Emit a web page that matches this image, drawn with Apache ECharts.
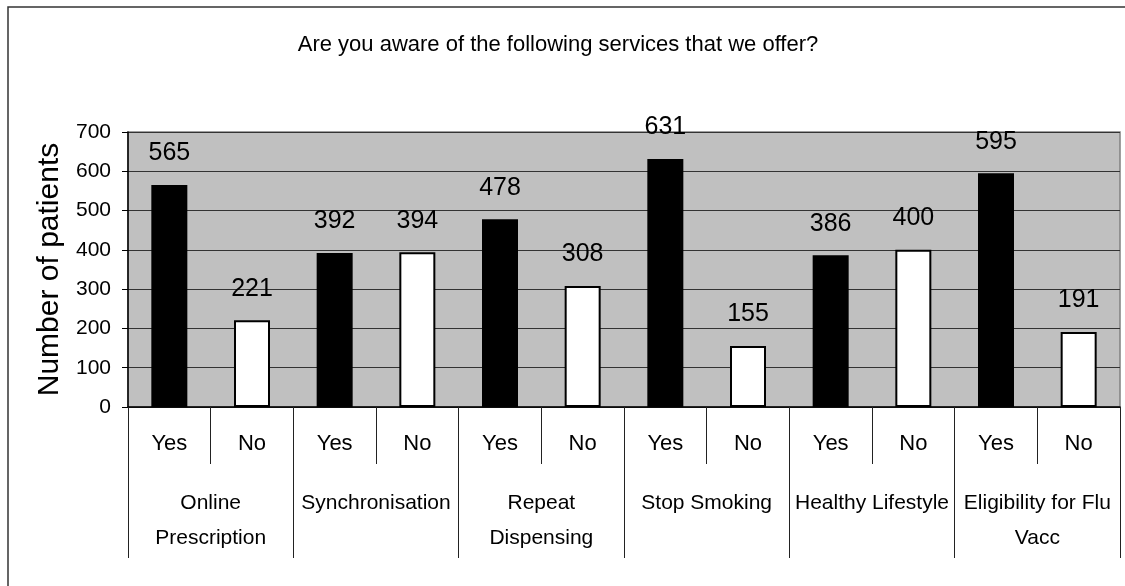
<!DOCTYPE html>
<html>
<head>
<meta charset="utf-8">
<style>
  html, body { margin: 0; padding: 0; background: #fff; }
  #chart { width: 1125px; height: 586px; }
</style>
<script src="https://cdn.jsdelivr.net/npm/echarts@6/dist/echarts.min.js"></script>
</head>
<body>
<div id="chart"></div>
<script>
// Survey answers per service
const answers = ['Yes', 'No', 'Yes', 'No', 'Yes', 'No', 'Yes', 'No', 'Yes', 'No', 'Yes', 'No'];
const services = ['Online\nPrescription', 'Synchronisation', 'Repeat\nDispensing', 'Stop Smoking', 'Healthy Lifestyle', 'Eligibility for Flu\nVacc'];
const patients = [565, 221, 392, 394, 478, 308, 631, 155, 386, 400, 595, 191];
const yTicks = [0, 100, 200, 300, 400, 500, 600, 700];

const FONT = '"Liberation Sans Narrow", "Arial Narrow", "Liberation Sans", Arial, sans-serif';

const chart = echarts.init(document.getElementById('chart'), null, { renderer: 'canvas' });

// "Yes" bars are solid black, "No" bars are white with a black outline
const barData = patients.map((v, i) => ({
  value: v,
  itemStyle: answers[i] === 'Yes'
    ? { color: '#000', borderColor: '#000', borderWidth: 0 }
    : { color: '#fff', borderColor: '#000', borderWidth: 2 }
}));

const option = {
  animation: false,
  backgroundColor: '#fff',
  title: {
    text: 'Are you aware of the following services that we offer?',
    left: 553,
    top: 29,
    textAlign: 'center',
    textStyle: { fontFamily: FONT, fontSize: 22, fontWeight: 'normal', color: '#000' }
  },
  graphic: [{
    type: 'rect',
    shape: { x: 8, y: 7, width: 1140, height: 600 },
    style: { fill: 'none', stroke: '#333', lineWidth: 1.5 },
    silent: true,
    z: -1
  }],
  grid: {
    left: 128, right: 5, top: 132, bottom: 179,
    show: true,
    backgroundColor: '#c0c0c0',
    borderColor: '#808080',
    borderWidth: 1.5
  },
  xAxis: [{
    type: 'category',
    data: answers,
    position: 'bottom',
    axisLine: { show: true, lineStyle: { color: '#000', width: 1.5 } },
    axisTick: { show: true, length: 57, inside: false, lineStyle: { color: '#222', width: 1 } },
    axisLabel: { interval: 0, margin: 26, fontFamily: FONT, fontSize: 22, color: '#000' },
    splitLine: { show: false }
  }, {
    type: 'category',
    data: services,
    position: 'bottom',
    axisLine: { show: false },
    axisTick: { show: true, length: 151, lineStyle: { color: '#222', width: 1 } },
    axisLabel: { interval: 0, margin: 79, fontFamily: FONT, fontSize: 21, lineHeight: 35, color: '#000', verticalAlign: 'top' },
    splitLine: { show: false }
  }],
  yAxis: {
    type: 'value',
    min: yTicks[0],
    max: yTicks[yTicks.length - 1],
    interval: 100,
    name: 'Number of patients',
    nameLocation: 'middle',
    nameGap: 60,
    nameTextStyle: { fontFamily: FONT, fontSize: 30, color: '#000' },
    axisLine: { show: true, lineStyle: { color: '#000', width: 1.5 } },
    axisTick: { show: true, length: 6, lineStyle: { color: '#000' } },
    axisLabel: { margin: 17, fontFamily: FONT, fontSize: 21, color: '#000' },
    splitLine: { show: true, lineStyle: { color: '#333', width: 1 } }
  },
  series: [{
    type: 'bar',
    xAxisIndex: 0,
    data: barData,
    barWidth: 36,
    label: {
      show: true,
      position: 'top',
      distance: 19,
      fontFamily: FONT,
      fontSize: 25,
      color: '#000'
    }
  }]
};

chart.setOption(option);
</script>
</body>
</html>
